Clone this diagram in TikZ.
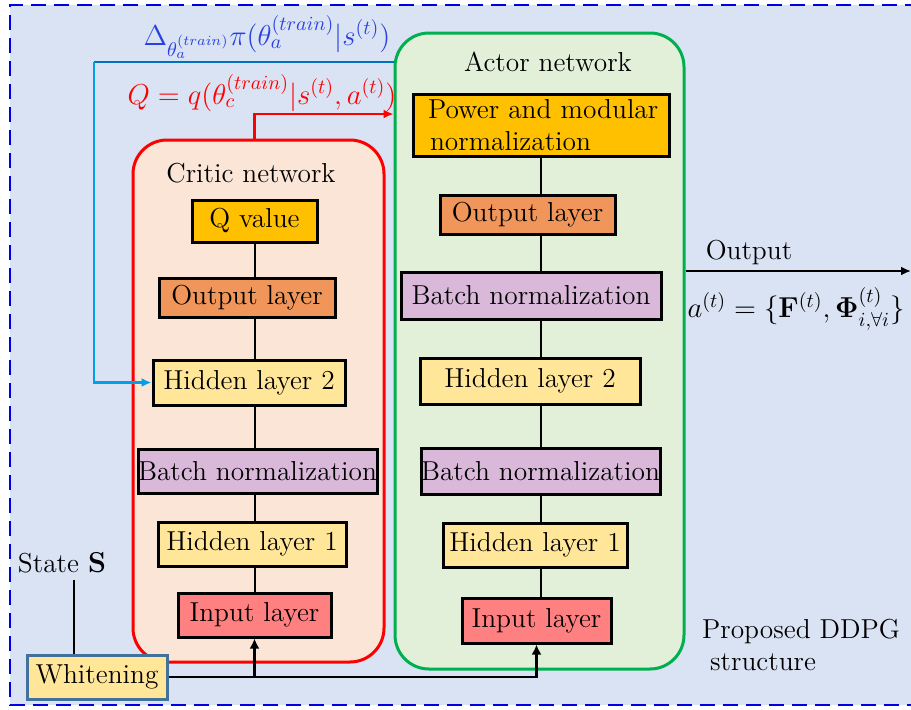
\documentclass[tikz,border=0pt]{standalone}
\usepackage{amsmath}
\usepackage{bm}
\usetikzlibrary{arrows.meta}
\definecolor{bgc}{HTML}{DAE3F3}
\definecolor{critfill}{HTML}{FBE5D6}
\definecolor{actfill}{HTML}{E2F0D9}
\definecolor{actgreen}{HTML}{00B050}
\definecolor{qcol}{HTML}{FFC000}
\definecolor{outcol}{HTML}{F0965A}
\definecolor{bncol}{HTML}{D9B8DA}
\definecolor{hidcol}{HTML}{FFE699}
\definecolor{incol}{HTML}{FF8080}
\definecolor{whborder}{HTML}{41719C}
\definecolor{bluedark}{HTML}{0070C0}
\definecolor{bluelight}{HTML}{00A0E9}
\definecolor{labblue}{HTML}{2A40E0}
\begin{document}
\begin{tikzpicture}[x=0.5pt,y=-0.5pt,
  txt/.style={font=\fontsize{13.7}{16}\selectfont},
  layerbox/.style={txt,draw=black,line width=1.5pt,inner sep=0pt},
  netbox/.style={line width=1.5pt,rounded corners=17pt,inner sep=0pt},
  conn/.style={line width=1pt,black},
  feed/.style={line width=1.2pt,black,-{Latex[length=5pt,width=5pt]}}
]
\useasboundingbox (0,0) rectangle (911,709);
% background frame
\fill[bgc] (10,5) rectangle (920,705);
\draw[blue!90!black,line width=1.3pt,dash pattern=on 7.5pt off 4pt] (920,5) -- (10,5) -- (10,705) -- (920,705);

% network boxes
\node[netbox,draw=red,fill=critfill,minimum width=125.5pt,minimum height=261pt] (critic) at (258.5,401) {};
\node[netbox,draw=actgreen,fill=actfill,minimum width=144.5pt,minimum height=318pt] (actor) at (539.5,351) {};

\node[txt] (critlab) at (251,173) {Critic network};
\node[txt] (actlab) at (548,62) {Actor network};

% critic layers
\node[layerbox,fill=qcol,minimum width=62.5pt,minimum height=21pt] (cq) at (254.5,221) {Q value};
\node[layerbox,fill=outcol,minimum width=88pt,minimum height=19.5pt] (co) at (247,297.5) {Output layer};
\node[layerbox,fill=hidcol,minimum width=96pt,minimum height=22.5pt] (ch2) at (249,382.5) {Hidden layer 2};
\node[layerbox,fill=bncol,minimum width=119.5pt,minimum height=22pt] (cb) at (257.5,471) {Batch normalization};
\node[layerbox,fill=hidcol,minimum width=94pt,minimum height=22pt] (ch1) at (252,544) {Hidden layer 1};
\node[layerbox,fill=incol,minimum width=76.5pt,minimum height=22pt] (ci) at (254.5,615) {Input layer};

% actor layers
\node[layerbox,fill=qcol,minimum width=128pt,minimum height=31pt,align=left,text width=124pt] (ap) at (541,125) {\hspace*{5.5pt}Power and modular\\\hspace*{6.5pt}normalization};
\node[layerbox,fill=outcol,minimum width=87.5pt,minimum height=19.5pt] (ao) at (527.5,214.5) {Output layer};
\node[layerbox,fill=bncol,minimum width=130pt,minimum height=23.5pt] (ab2) at (531,295.5) {Batch normalization};
\node[layerbox,fill=hidcol,minimum width=110pt,minimum height=23pt] (ah2) at (530,381) {Hidden layer 2};
\node[layerbox,fill=bncol,minimum width=119.5pt,minimum height=23pt] (ab1) at (540.5,471) {Batch normalization};
\node[layerbox,fill=hidcol,minimum width=92pt,minimum height=22pt] (ah1) at (535,545) {Hidden layer 1};
\node[layerbox,fill=incol,minimum width=74.5pt,minimum height=22.5pt] (ai) at (536.5,620.5) {Input layer};

% whitening and state
\node[layerbox,draw=whborder,fill=hidcol,minimum width=70pt,minimum height=22pt] (wh) at (97,677) {Whitening};
\node[txt] (st) at (62,563) {State $\mathbf{S}$};

% vertical connectors critic
\draw[conn] (cq.south) -- (cq.south |- co.north);
\draw[conn] (cq.south |- co.south) -- (cq.south |- ch2.north);
\draw[conn] (cq.south |- ch2.south) -- (cq.south |- cb.north);
\draw[conn] (cq.south |- cb.south) -- (cq.south |- ch1.north);
\draw[conn] (cq.south |- ch1.south) -- (cq.south |- ci.north);
% vertical connectors actor
\draw[conn] (ap.south) -- (ap.south |- ao.north);
\draw[conn] (ap.south |- ao.south) -- (ap.south |- ab2.north);
\draw[conn] (ap.south |- ab2.south) -- (ap.south |- ah2.north);
\draw[conn] (ap.south |- ah2.south) -- (ap.south |- ab1.north);
\draw[conn] (ap.south |- ab1.south) -- (ap.south |- ah1.north);
\draw[conn] (ap.south |- ah1.south) -- (ap.south |- ai.north);

% state to whitening
\draw[conn,line width=1.2pt] (st.south -| 74,0) -- (wh.north -| 74,0);
% whitening feeds
\draw[feed] (wh.east) -| (ai.south);
\draw[feed] (ci.south |- wh.east) -- (ci.south);

% critic Q to actor
\draw[red,line width=1.2pt,-{Latex[length=5pt,width=4.5pt]}] (ci.south |- critic.north) |- (actor.west |- 0,114);
\node[red,txt,inner sep=0pt] (qlab) at (262,93) {$Q=q(\theta_c^{(train)}|s^{(t)},a^{(t)})$};

% actor gradient to critic hidden layer 2
\coordinate (bc) at (94,62);
\draw[bluedark,line width=1.2pt] (actor.west |- 0,62) -- (bc);
\draw[bluelight,line width=1.2pt,-{Latex[length=5pt,width=4.5pt]}] (bc) |- (ch2.west);
\node[labblue,txt,inner sep=0pt] (glab) at (267,37) {$\Delta_{\theta_a^{(train)}}\pi(\theta_a^{(train)}|s^{(t)})$};

% output
\coordinate (outend) at (911,271);
\draw[conn,line width=1.2pt,-{Latex[length=5pt,width=4.5pt]}] (actor.east |- outend) -- (outend);
\node[txt] (outlab) at (749,253) {Output};
\node[txt] (alab) at (796,309) {$a^{(t)}=\{\mathbf{F}^{(t)},\bm{\Phi}_{i,\forall i}^{(t)}\}$};

\node[txt,align=left,anchor=west] (ddpg) at (695,645) {Proposed DDPG\\\hspace{4pt}structure};
\end{tikzpicture}
\end{document}
